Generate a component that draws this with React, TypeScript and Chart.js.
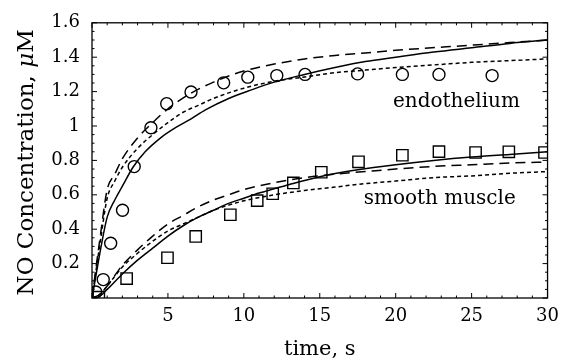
import React, { useEffect, useRef } from "react";
import { Chart, registerables } from "chart.js";

Chart.register(...registerables);

// ---- Data ----
const endoObsT = [0.25, 0.74, 1.23, 2.01, 2.78, 3.88, 4.92, 6.52, 8.67, 10.26, 12.17, 14.03, 17.49, 20.44, 22.85, 26.35];
const endoObsY = [0.035, 0.107, 0.318, 0.51, 0.764, 0.99, 1.13, 1.198, 1.251, 1.284, 1.293, 1.3, 1.303, 1.3, 1.3, 1.293];

const smObsT = [0.45, 2.28, 4.97, 6.83, 9.11, 10.88, 11.9, 13.26, 15.1, 17.55, 20.44, 22.85, 25.26, 27.45, 29.8];
const smObsY = [0.005, 0.113, 0.234, 0.358, 0.484, 0.566, 0.606, 0.669, 0.731, 0.792, 0.83, 0.851, 0.846, 0.85, 0.846];

const endoSolidT = [0, 0.3, 0.6, 1.0, 1.5, 2, 2.7, 3.5, 4.5, 5.5, 6.5, 7.5, 9, 10.5, 12, 14, 16, 18, 20, 22.5, 25, 27.5, 30];
const endoSolidY = [0, 0.15, 0.3, 0.47, 0.57, 0.65, 0.76, 0.85, 0.93, 0.99, 1.04, 1.095, 1.16, 1.21, 1.255, 1.3, 1.34, 1.375, 1.4, 1.43, 1.455, 1.48, 1.5];

const endoLongT = [0, 0.5, 1, 1.5, 2, 3, 4, 5, 6.5, 8, 10, 12, 14, 16, 18, 20, 25, 30];
const endoLongY = [0, 0.33, 0.63, 0.72, 0.81, 0.93, 1.02, 1.1, 1.19, 1.255, 1.32, 1.36, 1.39, 1.41, 1.425, 1.44, 1.47, 1.5];

const endoShortT = [0, 0.5, 1, 1.5, 2, 3, 4, 5, 6, 7, 8, 10, 12, 14, 16, 18, 20, 22.5, 25, 27.5, 30];
const endoShortY = [0, 0.3, 0.58, 0.68, 0.76, 0.87, 0.95, 1.02, 1.08, 1.12, 1.16, 1.22, 1.26, 1.285, 1.31, 1.325, 1.34, 1.355, 1.37, 1.38, 1.39];

const smSolidT = [0, 0.5, 1, 2, 3, 4, 5, 6, 7, 8, 9, 10, 11, 12, 13, 15, 17.5, 20, 22.5, 25, 27.5, 30];
const smSolidY = [0, 0.01, 0.05, 0.14, 0.22, 0.29, 0.36, 0.42, 0.47, 0.51, 0.55, 0.58, 0.61, 0.635, 0.66, 0.705, 0.745, 0.775, 0.8, 0.82, 0.835, 0.85];

const smLongT = [0, 0.5, 1, 2, 3, 4, 5, 6, 7, 8, 9, 10, 12, 14, 16, 18, 20, 22.5, 25, 27.5, 30];
const smLongY = [0, 0.02, 0.07, 0.19, 0.28, 0.36, 0.43, 0.48, 0.53, 0.57, 0.6, 0.63, 0.67, 0.7, 0.72, 0.735, 0.75, 0.765, 0.775, 0.785, 0.79];

const smShortT = [0, 0.5, 1, 2, 3, 4, 5, 6, 7, 8, 9, 10, 12, 14, 16, 18, 20, 22.5, 25, 27.5, 30];
const smShortY = [0, 0.02, 0.07, 0.18, 0.26, 0.33, 0.39, 0.43, 0.47, 0.51, 0.54, 0.565, 0.6, 0.625, 0.645, 0.665, 0.68, 0.7, 0.71, 0.725, 0.735];

const xTickValues = [5, 10, 15, 20, 25, 30];
const xTickLabels = ["5", "10", "15", "20", "25", "30"];
const yTickValues = [0.2, 0.4, 0.6, 0.8, 1.0, 1.2, 1.4, 1.6];
const yTickLabels = ["0.2", "0.4", "0.6", "0.8", "1", "1.2", "1.4", "1.6"];

const endoLabel = { text: "endothelium", x: 24.0, y: 1.143 };
const smLabel = { text: "smooth muscle", x: 22.9, y: 0.577 };

const xTitle = "time, s";
const yTitleParts = ["NO Concentration, ", "\u03bc", "M"];

const FONT = '"DejaVu Serif", serif';

const zip = (t: number[], y: number[]) => t.map((v, i) => ({ x: v, y: y[i] }));

const framePlugin = {
  id: "framePlugin",
  afterDraw(chart: any) {
    const { ctx, chartArea } = chart;
    const { left, right, top, bottom } = chartArea;
    const xs = chart.scales.x;
    const ys = chart.scales.y;
    ctx.save();
    ctx.strokeStyle = "#000";
    ctx.lineWidth = 1.3;
    ctx.strokeRect(left, top, right - left, bottom - top);
    ctx.lineWidth = 1;
    const line = (x1: number, y1: number, x2: number, y2: number) => {
      ctx.beginPath();
      ctx.moveTo(x1, y1);
      ctx.lineTo(x2, y2);
      ctx.stroke();
    };
    for (let i = 0; i <= 30; i++) {
      const px = xs.getPixelForValue(i);
      const len = i % 5 === 0 ? 5 : 2.5;
      line(px, bottom, px, bottom - len);
      line(px, top, px, top + len);
    }
    for (let i = 0; i <= 32; i++) {
      const py = ys.getPixelForValue(i * 0.05);
      const len = i % 4 === 0 ? 5 : 2.5;
      line(left, py, left + len, py);
      line(right, py, right - len, py);
    }
    // in-plot labels
    ctx.fillStyle = "#000";
    ctx.font = `20px ${FONT}`;
    ctx.textAlign = "center";
    ctx.textBaseline = "middle";
    ctx.fillText(endoLabel.text, xs.getPixelForValue(endoLabel.x), ys.getPixelForValue(endoLabel.y));
    ctx.fillText(smLabel.text, xs.getPixelForValue(smLabel.x), ys.getPixelForValue(smLabel.y));
    // x title
    ctx.font = `21px ${FONT}`;
    ctx.fillText(xTitle, (left + right) / 2, 350);
    // y title with italic mu
    const normal = `23px ${FONT}`;
    const italic = `italic 23px ${FONT}`;
    ctx.font = normal;
    const w0 = ctx.measureText(yTitleParts[0]).width;
    const w2 = ctx.measureText(yTitleParts[2]).width;
    ctx.font = italic;
    const w1 = ctx.measureText(yTitleParts[1]).width;
    const total = w0 + w1 + w2;
    ctx.translate(27, (top + bottom) / 2 + 2);
    ctx.rotate(-Math.PI / 2);
    ctx.textAlign = "left";
    let cx = -total / 2;
    ctx.font = normal;
    ctx.fillText(yTitleParts[0], cx, 0);
    cx += w0;
    ctx.font = italic;
    ctx.fillText(yTitleParts[1], cx, 0);
    cx += w1;
    ctx.font = normal;
    ctx.fillText(yTitleParts[2], cx, 0);
    ctx.restore();
  },
};

export default function App() {
  const ref = useRef<HTMLCanvasElement | null>(null);
  useEffect(() => {
    if (!ref.current) return;
    const curve = (t: number[], y: number[], dash: number[], w = 1.5) => ({
      data: zip(t, y),
      showLine: true,
      borderColor: "#000",
      borderWidth: w,
      borderDash: dash,
      pointRadius: 0,
      fill: false,
      cubicInterpolationMode: "monotone" as const,
    });
    const chart = new Chart(ref.current, {
      type: "scatter",
      data: {
        datasets: [
          curve(endoSolidT, endoSolidY, []),
          curve(endoLongT, endoLongY, [10, 6]),
          curve(endoShortT, endoShortY, [4, 3]),
          curve(smSolidT, smSolidY, []),
          curve(smLongT, smLongY, [10, 6]),
          curve(smShortT, smShortY, [4, 3]),
          {
            data: zip(endoObsT, endoObsY),
            showLine: false,
            pointStyle: "circle",
            pointRadius: 6,
            borderColor: "#000",
            borderWidth: 1.4,
            backgroundColor: "rgba(0,0,0,0)",
          },
          {
            data: zip(smObsT, smObsY),
            showLine: false,
            pointStyle: "rect",
            pointRadius: 8,
            borderColor: "#000",
            borderWidth: 1.4,
            backgroundColor: "rgba(0,0,0,0)",
          },
        ],
      },
      options: {
        animation: false,
        responsive: false,
        layout: { padding: { top: 18, right: 18, left: 0, bottom: 0 } },
        plugins: { legend: { display: false }, tooltip: { enabled: false } },
        scales: {
          x: {
            type: "linear",
            min: 0,
            max: 30,
            grid: { display: false, drawTicks: false },
            border: { display: false },
            afterBuildTicks: (s: any) => {
              s.ticks = xTickValues.map((v) => ({ value: v }));
            },
            afterFit: (s: any) => {
              s.height = 64;
            },
            ticks: {
              padding: 8,
              color: "#000",
              font: { family: FONT, size: 18 },
              maxRotation: 0,
              callback: (v: any) => {
                const i = xTickValues.indexOf(Number(v));
                return i >= 0 ? xTickLabels[i] : "";
              },
            },
          },
          y: {
            type: "linear",
            min: 0,
            max: 1.6,
            grid: { display: false, drawTicks: false },
            border: { display: false },
            afterBuildTicks: (s: any) => {
              s.ticks = yTickValues.map((v) => ({ value: v }));
            },
            afterFit: (s: any) => {
              s.width = 92;
            },
            ticks: {
              padding: 12,
              color: "#000",
              font: { family: FONT, size: 18 },
              callback: (v: any) => {
                const i = yTickValues.findIndex((t) => Math.abs(t - Number(v)) < 1e-6);
                return i >= 0 ? yTickLabels[i] : "";
              },
            },
          },
        },
      },
      plugins: [framePlugin],
    });
    return () => chart.destroy();
  }, []);
  return (
    <div style={{ position: "absolute", left: 0, top: 0, width: 567, height: 362, background: "#fff" }}>
      <canvas ref={ref} width={567} height={362} />
    </div>
  );
}
